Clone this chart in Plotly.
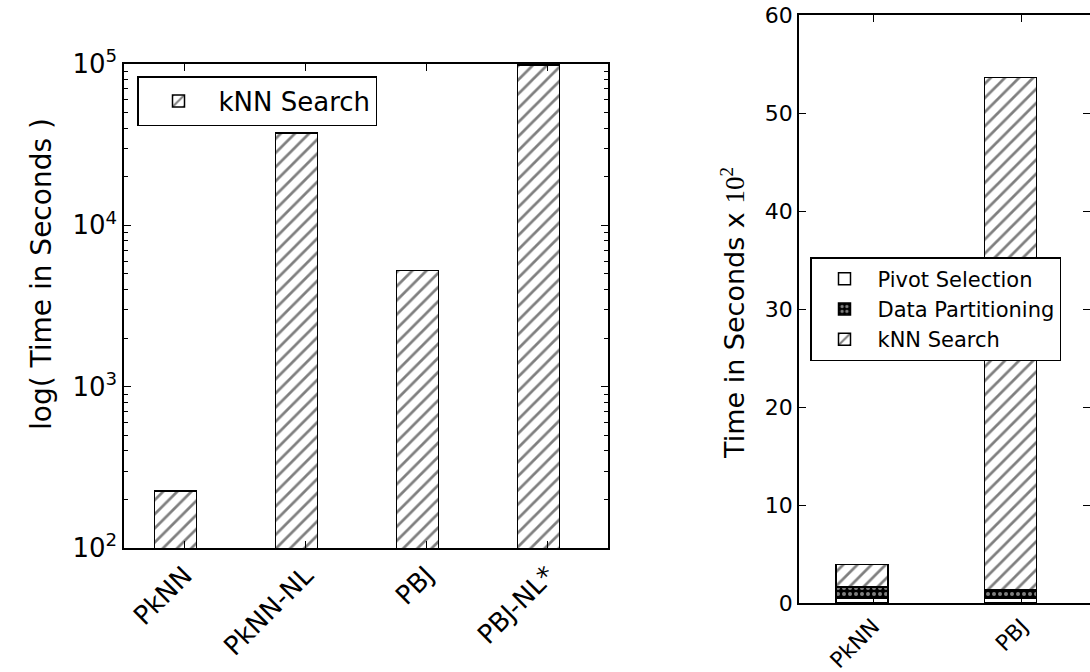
import plotly.graph_objects as go

# ---------------- data ----------------
left_categories = ["PkNN", "PkNN-NL", "PBJ", "PBJ-NL*"]
left_knn_search = [226, 37250, 5236, 98500]

right_categories = ["PkNN", "PBJ"]
right_pivot_selection = [0.5, 0.5]
right_data_partitioning = [1.15, 0.9]
right_knn_search = [2.3, 52.2]

left_ytick_vals = [100, 1000, 10000, 100000]
left_ytick_text = ["10<sup>2</sup>", "10<sup>3</sup>", "10<sup>4</sup>", "10<sup>5</sup>"]
left_minor_vals = [m * 10 ** e for e in (2, 3, 4) for m in range(2, 10)]

# ---------------- styles ----------------
FONT = "DejaVu Sans"
W, H = 1090, 672


def px_x(p):
    return p / W


def px_y(p):
    return 1 - p / H


hatch = dict(shape="/", fgcolor="black", bgcolor="white", size=10, solidity=0.27)
dots = dict(shape=".", fgcolor="white", bgcolor="black", size=6, solidity=0.35)
outline = dict(color="black", width=1.5)

fig = go.Figure()

fig.add_trace(go.Bar(
    x=left_categories, y=left_knn_search, name="kNN Search",
    width=0.35, offset=-0.25, showlegend=True,
    marker=dict(color="white", line=outline, pattern=hatch),
    xaxis="x", yaxis="y", legend="legend",
))

fig.add_trace(go.Bar(
    x=right_categories, y=right_pivot_selection, name="Pivot Selection",
    width=0.35, offset=-0.25, showlegend=True,
    marker=dict(color="white", line=outline),
    xaxis="x2", yaxis="y2", legend="legend2",
))
fig.add_trace(go.Bar(
    x=right_categories, y=right_data_partitioning, name="Data Partitioning",
    width=0.35, offset=-0.25, showlegend=True,
    marker=dict(color="black", line=outline, pattern=dots),
    xaxis="x2", yaxis="y2", legend="legend2",
))
fig.add_trace(go.Bar(
    x=right_categories, y=right_knn_search, name="kNN Search",
    width=0.35, offset=-0.25, showlegend=True,
    marker=dict(color="white", line=outline, pattern=hatch),
    xaxis="x2", yaxis="y2", legend="legend2",
))

axis_common = dict(
    showline=True, linecolor="black", linewidth=1.5, mirror="ticks",
    ticks="inside", ticklen=7, tickwidth=1, tickcolor="black",
    showgrid=False, zeroline=False, automargin=False,
)

fig.update_layout(
    width=W, height=H,
    margin=dict(l=0, r=0, t=0, b=0, pad=0),
    paper_bgcolor="white", plot_bgcolor="white",
    barmode="stack", showlegend=True,
    font=dict(family=FONT, color="black"),
    xaxis=dict(
        domain=[px_x(124), px_x(608)], anchor="y", type="category",
        range=[-0.5, 3.5], tickangle=-45,
        tickfont=dict(size=26, family=FONT, color="black"),
        **axis_common,
    ),
    yaxis=dict(
        domain=[px_y(548), px_y(64)], anchor="x", type="log",
        range=[2, 5], tickmode="array",
        tickvals=left_ytick_vals, ticktext=left_ytick_text,
        tickfont=dict(size=26, family=FONT, color="black"),
        minor=dict(tickmode="array", tickvals=left_minor_vals, ticks="inside",
                   ticklen=4, tickcolor="black", showgrid=False),
        **axis_common,
    ),
    xaxis2=dict(
        domain=[px_x(799), 1.0], anchor="y2", type="category",
        range=[-0.5, 1.46], tickangle=-45,
        tickfont=dict(size=22, family=FONT, color="black"),
        **axis_common,
    ),
    yaxis2=dict(
        domain=[px_y(603), px_y(15)], anchor="x2",
        range=[0, 60], dtick=10,
        tickfont=dict(size=22, family=FONT, color="black"),
        **axis_common,
    ),
    legend=dict(
        x=px_x(137), y=px_y(76), xanchor="left", yanchor="top",
        bgcolor="white", bordercolor="black", borderwidth=1.5,
        font=dict(size=26, family=FONT, color="black"),
        itemwidth=70,
    ),
    legend2=dict(
        x=px_x(810), y=px_y(257), xanchor="left", yanchor="top",
        bgcolor="white", bordercolor="black", borderwidth=1.5,
        traceorder="normal", itemwidth=56,
        font=dict(size=21, family=FONT, color="black"),
    ),
    annotations=[
        dict(text="log( Time in Seconds )", textangle=-90,
             xref="paper", yref="paper", x=px_x(41), y=px_y(274),
             xanchor="center", yanchor="middle", showarrow=False,
             font=dict(size=28, family=FONT, color="black")),
        dict(text="Time in Seconds x <span style='font-family:Liberation Serif'>10<sup>2</sup></span>",
             textangle=-90,
             xref="paper", yref="paper", x=px_x(733), y=px_y(313),
             xanchor="center", yanchor="middle", showarrow=False,
             font=dict(size=27, family=FONT, color="black")),
    ],
)

fig.write_html("out.html")
